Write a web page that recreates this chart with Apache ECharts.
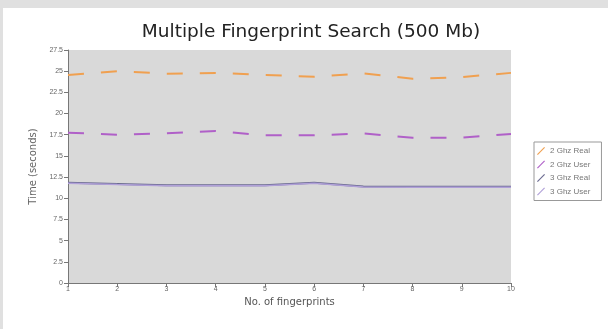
<!DOCTYPE html>
<html><head><meta charset="utf-8">
<script src="https://cdn.jsdelivr.net/npm/echarts@6/dist/echarts.min.js"></script>
<style>
html,body{margin:0;padding:0;background:#e0e0e0;width:608px;height:329px;overflow:hidden}
#c{position:absolute;left:3px;top:8px;width:605px;height:321px;background:#fff}
</style></head><body><div id="c"></div>
<script>
var xValues = [1,2,3,4,5,6,7,8,9,10];
var real2 = [24.55,25.0,24.7,24.8,24.55,24.35,24.75,24.1,24.3,24.8];
var user2 = [17.74,17.5,17.66,17.94,17.43,17.43,17.65,17.15,17.15,17.6];
var real3 = [11.84,11.68,11.53,11.53,11.53,11.84,11.4,11.37,11.37,11.37];
var user3 = [11.78,11.62,11.47,11.47,11.47,11.78,11.34,11.31,11.31,11.31];
var seriesNames = ['2 Ghz Real','2 Ghz User','3 Ghz Real','3 Ghz User'];
function pts(a){return xValues.map(function(x,i){return [x,a[i]];});}
var chart = echarts.init(document.getElementById('c'));
var font = 'Liberation Sans';
var font2 = 'DejaVu Sans';
chart.setOption({
  animation:false,
  title:{text:'Multiple Fingerprint Search (500 Mb)',left:303,top:10,textAlign:'center',
    textStyle:{fontFamily:font2,fontSize:18.5,fontWeight:'normal',color:'#222'}},
  grid:{left:65,top:42,right:97,bottom:46,show:true,backgroundColor:'#d9d9d9',borderWidth:0},
  legend:{orient:'vertical',left:531,top:134,itemWidth:8,itemHeight:8,itemGap:5.5,
    padding:[5,11,5,3],borderColor:'#999',borderWidth:1,backgroundColor:'#fff',
    icon:'path://M0,9L9,0L10,1L1,10Z',
    textStyle:{fontFamily:font,fontSize:8,color:'#777'},data:seriesNames},
  xAxis:{type:'value',min:1,max:10,interval:1,name:'No. of fingerprints',nameLocation:'middle',nameGap:14,
    nameTextStyle:{fontFamily:font2,fontSize:10,color:'#555'},
    axisLine:{lineStyle:{color:'#777'}},axisTick:{length:4,lineStyle:{color:'#777'}},
    axisLabel:{fontFamily:font,fontSize:7,color:'#666',margin:3},splitLine:{show:false}},
  yAxis:{type:'value',min:0,max:27.5,interval:2.5,name:'Time (seconds)',nameLocation:'middle',nameGap:30,
    nameTextStyle:{fontFamily:font2,fontSize:10,color:'#666'},
    axisLine:{show:true,lineStyle:{color:'#777'}},axisTick:{show:true,length:4,lineStyle:{color:'#777'}},
    axisLabel:{fontFamily:font,fontSize:7,color:'#666',margin:5},splitLine:{show:false}},
  series:[
    {name:seriesNames[0],type:'line',data:pts(real2),symbol:'none',color:'#f0a050',lineStyle:{width:2,type:[16,17]}},
    {name:seriesNames[1],type:'line',data:pts(user2),symbol:'none',color:'#b060c8',lineStyle:{width:2,type:[16,17]}},
    {name:seriesNames[2],type:'line',data:pts(real3),symbol:'none',color:'#6a6a90',lineStyle:{width:2}},
    {name:seriesNames[3],type:'line',data:pts(user3),symbol:'none',color:'#b0a0d8',lineStyle:{width:1.5}}
  ]
});
</script></body></html>
